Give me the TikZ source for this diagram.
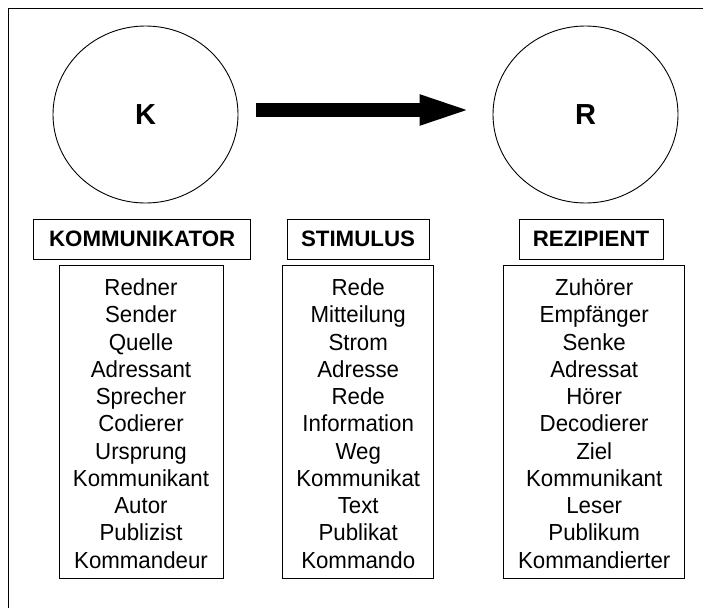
\documentclass[tikz,border=0pt]{standalone}
\usepackage{fontspec}
\setmainfont{Liberation Sans}
\newfontfamily\listfont[FakeStretch=0.96]{Liberation Sans}
\usetikzlibrary{shapes.geometric,arrows.meta}

\tikzset{
  party/.style={draw, ellipse, line width=0.9pt, minimum width=185pt, minimum height=177pt,
                inner sep=0pt, font=\fontsize{29}{34}\selectfont\bfseries},
  headbox/.style={draw, line width=1pt, minimum height=40pt, inner sep=0pt,
                  font=\fontsize{22.3}{27}\selectfont\bfseries},
  listbox/.style={draw, line width=1pt, minimum height=313pt, inner sep=0pt, align=center,
                  font=\listfont\fontsize{23.2}{27.26}\selectfont},
  fatarrow/.style={line width=14pt, -{Triangle[length=56pt,width=26pt]},
                   shorten <=18pt, shorten >=17pt}
}
% extra height on the first list line to lower the text block a little
\newcommand{\toprow}{\rule{0pt}{21pt}}

\begin{document}
\begin{tikzpicture}[x=1pt,y=-1pt]
  \useasboundingbox (0,0) rectangle (703,608);
  % open frame: left and top edges
  \draw[line width=1pt] (8,608) -- (8,8) -- (703,8);

  % communicator and recipient
  \node[party] (K) at (145.5,114.5) {K};
  \node[party] (R) at (585.5,114.5) {R};
  \draw[fatarrow] ([yshift=4.5pt]K.east) -- ([yshift=4.5pt]R.west);

  % column headings
  \node[headbox, minimum width=217.5pt] (hk) at (142.2,239.3) {KOMMUNIKATOR};
  \node[headbox, minimum width=142pt]   (hs) at (358,239.3)   {STIMULUS};
  \node[headbox, minimum width=144pt]   (hr) at (591,239.3)   {REZIPIENT};

  % synonym lists
  \node[listbox, minimum width=164pt] (lk) at (141,421.5)
    {\toprow Redner\\Sender\\Quelle\\Adressant\\Sprecher\\Codierer\\Ursprung\\Kommunikant\\Autor\\Publizist\\Kommandeur};
  \node[listbox, minimum width=151.5pt] (ls) at (358.2,421.5)
    {\toprow Rede\\Mitteilung\\Strom\\Adresse\\Rede\\Information\\Weg\\Kommunikat\\Text\\Publikat\\Kommando};
  \node[listbox, minimum width=181pt] (lr) at (594.2,421.5)
    {\toprow Zuhörer\\Empfänger\\Senke\\Adressat\\Hörer\\Decodierer\\Ziel\\Kommunikant\\Leser\\Publikum\\Kommandierter};
\end{tikzpicture}
\end{document}
